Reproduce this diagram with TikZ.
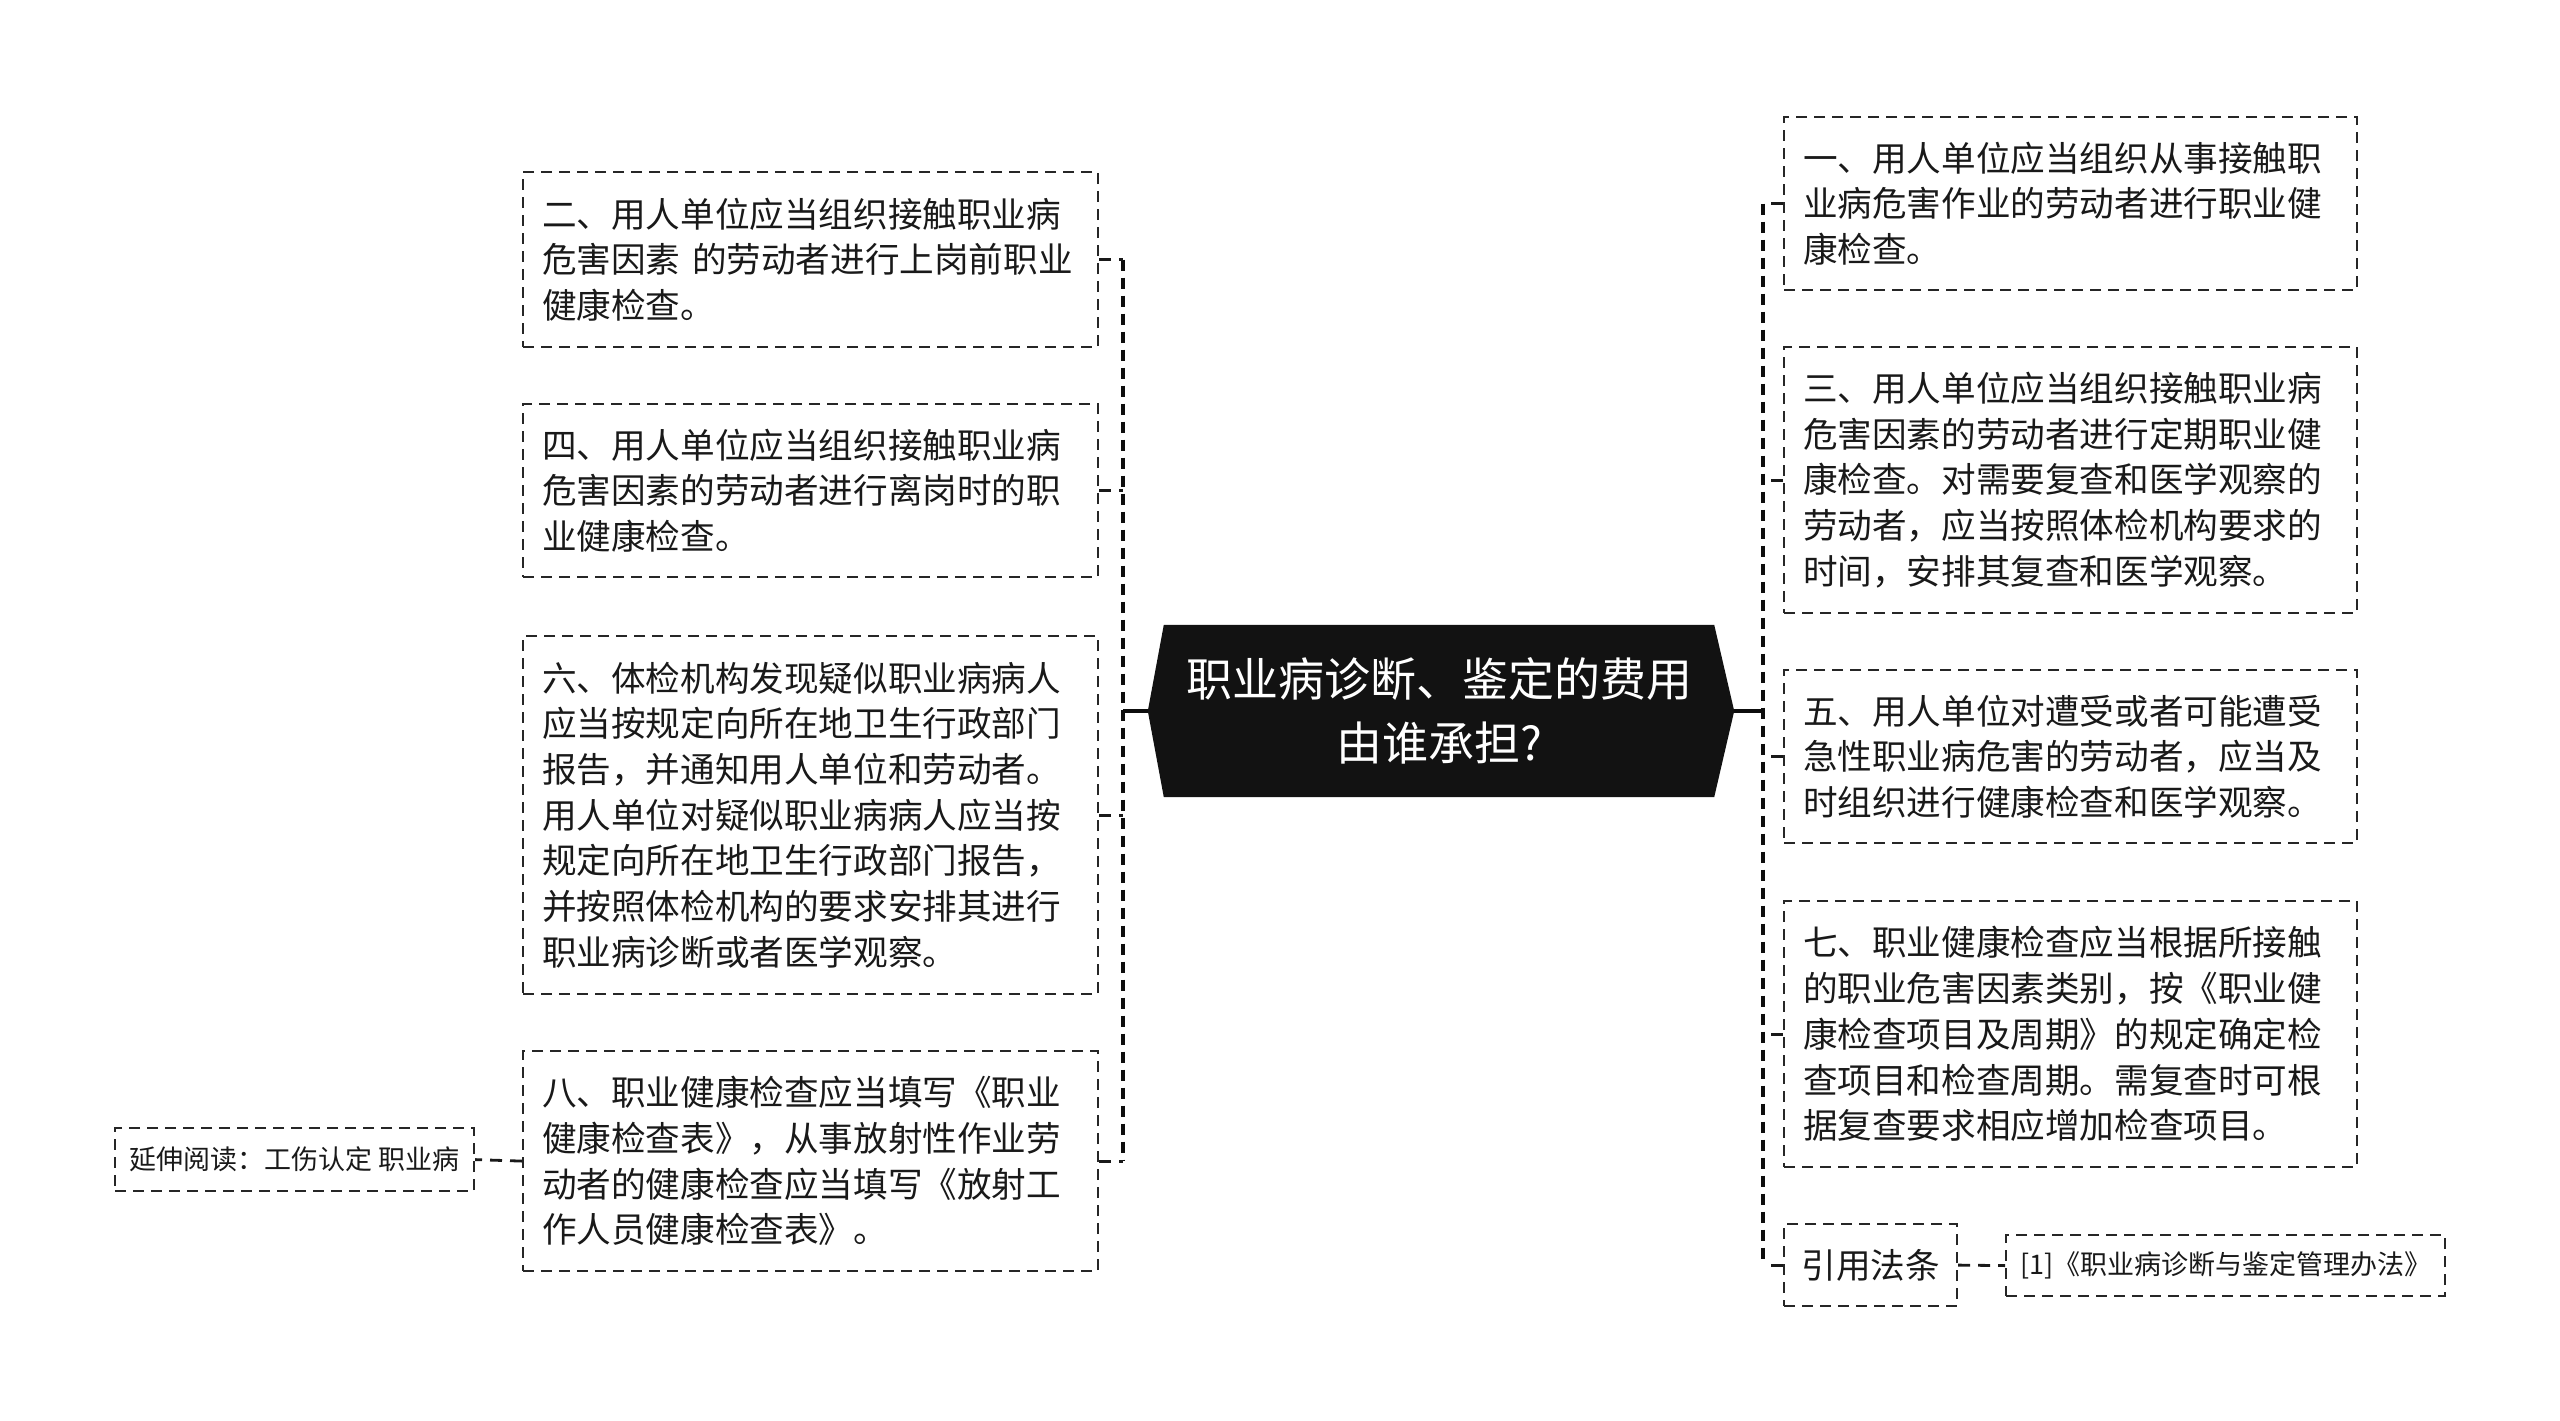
\documentclass[tikz,border=0pt]{standalone}
\usepackage{fontspec}
\setmainfont{Noto Sans CJK SC}
\usetikzlibrary{backgrounds}
\begin{document}
\begin{tikzpicture}[x=1bp,y=-1bp,
  box/.style={draw=black!85, line width=2.2bp, dash pattern=on 11bp off 7bp,
    anchor=north west, inner xsep=19bp, inner ysep=0pt, align=left,
    font=\fontsize{34.6bp}{45.7bp}\selectfont, text=black!90},
  smallbox/.style={draw=black!85, line width=2.2bp, dash pattern=on 11bp off 7bp,
    anchor=north west, inner xsep=10bp, inner ysep=0pt, align=center,
    font=\fontsize{27bp}{32bp}\selectfont, text=black!90},
  central/.style={inner sep=0pt, minimum width=550bp, minimum height=172bp,
    align=center, text=white, font=\fontsize{46bp}{64bp}\selectfont},
  trunk/.style={draw=black!95, line width=3.8bp, dash pattern=on 11bp off 7bp},
  branch/.style={draw=black!90, line width=2.8bp, dash pattern=on 12bp off 8bp},
  stem/.style={draw=black!95, line width=3.6bp}]
\useasboundingbox (0,0) rectangle (2560,1421);

% central node
\node[central] (c) at (1439,711) {职业病诊断、鉴定的费用\\由谁承担?};
\coordinate (cl) at ([xshift=-16bp]c.west);
\coordinate (cr) at ([xshift=20bp]c.east);
\begin{scope}[on background layer]
  \fill[black!93] (c.north west) -- (c.north east) -- (cr) -- (c.south east)
    -- (c.south west) -- (cl) -- cycle;
\end{scope}

% left boxes
\node[box, text width=537bp, minimum height=175bp] (b2) at (522,171)
  {二、用人单位应当组织接触职业病\\危害因素 的劳动者进行上岗前职业\\健康检查。};
\node[box, text width=537bp, minimum height=173bp] (b4) at (522,403)
  {四、用人单位应当组织接触职业病\\危害因素的劳动者进行离岗时的职\\业健康检查。};
\node[box, text width=537bp, minimum height=358bp] (b6) at (522,635)
  {六、体检机构发现疑似职业病病人\\应当按规定向所在地卫生行政部门\\报告，并通知用人单位和劳动者。\\用人单位对疑似职业病病人应当按\\规定向所在地卫生行政部门报告，\\并按照体检机构的要求安排其进行\\职业病诊断或者医学观察。};
\node[box, text width=537bp, minimum height=220bp] (b8) at (522,1050)
  {八、职业健康检查应当填写《职业\\健康检查表》，从事放射性作业劳\\动者的健康检查应当填写《放射工\\作人员健康检查表》。};
\node[smallbox, minimum width=359bp, minimum height=63bp] (ext) at (114,1127)
  {延伸阅读：工伤认定 职业病};

% right boxes
\node[box, text width=535bp, minimum height=173bp] (b1) at (1783,116)
  {一、用人单位应当组织从事接触职\\业病危害作业的劳动者进行职业健\\康检查。};
\node[box, text width=535bp, minimum height=266bp] (b3) at (1783,346)
  {三、用人单位应当组织接触职业病\\危害因素的劳动者进行定期职业健\\康检查。对需要复查和医学观察的\\劳动者，应当按照体检机构要求的\\时间，安排其复查和医学观察。};
\node[box, text width=535bp, minimum height=173bp] (b5) at (1783,669)
  {五、用人单位对遭受或者可能遭受\\急性职业病危害的劳动者，应当及\\时组织进行健康检查和医学观察。};
\node[box, text width=535bp, minimum height=266bp] (b7) at (1783,900)
  {七、职业健康检查应当根据所接触\\的职业危害因素类别，按《职业健\\康检查项目及周期》的规定确定检\\查项目和检查周期。需复查时可根\\据复查要求相应增加检查项目。};
\node[box, align=center, minimum width=173bp, minimum height=82bp, inner xsep=17bp] (yf) at (1783,1223)
  {引用法条};
\node[smallbox, minimum width=439bp, minimum height=61bp] (law) at (2005,1234)
  {[1]《职业病诊断与鉴定管理办法》};

% connectors
\coordinate (lt) at (1123,711);
\coordinate (rt) at (1763,711);
\draw[stem] (cl) -- (lt);
\draw[stem] (cr) -- (rt);
\draw[trunk] (b2.east -| lt) -- (b8.east -| lt);
\draw[trunk] (b1.west -| rt) -- (yf.west -| rt);
\foreach \n in {b2,b4,b6,b8} \draw[branch] (\n.east) -- (\n.east -| lt);
\foreach \n in {b1,b3,b5,b7,yf} \draw[branch] (\n.west) -- (\n.west -| rt);
\draw[branch] (b8.west) -- (ext.east);
\draw[branch] (yf.east) -- (law.west);
\end{tikzpicture}
\end{document}
